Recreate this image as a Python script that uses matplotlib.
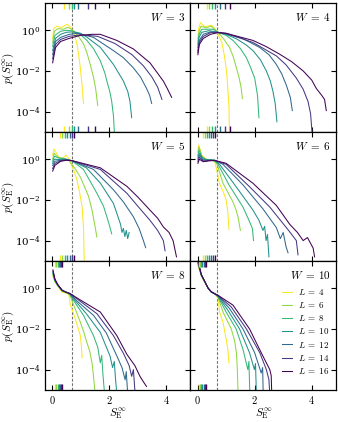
import numpy as np
import matplotlib
matplotlib.use("Agg")
import matplotlib.pyplot as plt
from matplotlib.ticker import FuncFormatter, NullLocator
import matplotlib.transforms as mtransforms

plt.rcParams['mathtext.fontset'] = 'cm'
plt.rcParams['font.family'] = 'serif'
plt.rcParams['font.serif'] = ['DejaVu Serif']
plt.rcParams['font.size'] = 7.5

L_values = [4, 6, 8, 10, 12, 14, 16]
W_values = [3, 4, 5, 6, 8, 10]

# --- W = 3 -----------------------------------------------------------------
w3_s = [
    [0.02, 0.06, 0.17, 0.33, 0.52, 0.62, 0.70, 0.80, 0.87, 0.93, 0.99, 1.05, 1.10],
    [0.02, 0.08, 0.2, 0.4, 0.55, 0.7, 0.9, 1.1, 1.22, 1.34, 1.45, 1.53, 1.6],
    [0.02, 0.1, 0.3, 0.5, 0.7, 0.95, 1.22, 1.45, 1.69, 1.85, 1.92, 2.02, 2.09, 2.15, 2.19],
    [0.02, 0.12, 0.3, 0.5, 0.7, 1.0, 1.22, 1.69, 2.15, 2.5, 2.65, 2.73, 2.79],
    [0.02, 0.12, 0.3, 0.6, 0.9, 1.45, 2.15, 2.5, 2.85, 3.1, 3.31, 3.42, 3.49],
    [0.02, 0.12, 0.3, 0.6, 1.0, 1.6, 2.2, 2.8, 3.2, 3.5, 3.7, 3.85],
    [0.02, 0.12, 0.3, 0.6, 1.0, 1.4, 1.69, 2.27, 2.85, 3.43, 3.9, 4.05, 4.19],
]
w3_logp = [
    [-0.4, 0.1, 0.2, 0.13, 0.3, 0.2, 0.03, -0.3, -0.67, -1.2, -1.85, -2.7, -3.6],
    [-0.6, -0.05, 0.08, 0.05, 0.15, 0.03, -0.25, -0.67, -1.1, -1.7, -2.3, -2.9, -3.7],
    [-0.8, -0.25, -0.05, 0.0, -0.03, -0.15, -0.5, -0.9, -1.5, -2.1, -2.5, -3.0, -3.5, -4.2, -5.2],
    [-1.0, -0.4, -0.2, -0.1, -0.08, -0.15, -0.34, -0.84, -1.68, -2.5, -3.0, -3.5, -4.3],
    [-1.2, -0.55, -0.35, -0.2, -0.15, -0.35, -1.0, -1.35, -1.85, -2.3, -2.86, -3.2, -3.6],
    [-1.4, -0.7, -0.45, -0.3, -0.22, -0.3, -0.65, -1.2, -1.75, -2.3, -2.8, -3.4],
    [-1.6, -0.85, -0.55, -0.4, -0.25, -0.2, -0.2, -0.5, -0.92, -1.6, -2.5, -2.9, -3.3],
]
w3_mean = [0.43, 0.60, 0.69, 0.78, 0.92, 1.25, 1.51]

# --- W = 4 -----------------------------------------------------------------
w4_s = [
    [0.01, 0.04, 0.1, 0.25, 0.48, 0.6, 0.71, 0.85, 0.95, 1.02, 1.06, 1.1, 1.12],
    [0.01, 0.05, 0.12, 0.3, 0.48, 0.71, 0.9, 1.12, 1.25, 1.36, 1.45, 1.53, 1.57],
    [0.01, 0.05, 0.15, 0.35, 0.55, 0.71, 1.0, 1.24, 1.5, 1.71, 1.85, 2.0, 2.1, 2.15],
    [0.01, 0.05, 0.15, 0.4, 0.71, 1.0, 1.36, 1.7, 1.94, 2.2, 2.41, 2.55, 2.64, 2.72, 2.78],
    [0.01, 0.06, 0.2, 0.45, 0.71, 1.0, 1.6, 2.17, 2.5, 2.76, 2.95, 3.11, 3.25, 3.32],
    [0.01, 0.06, 0.2, 0.45, 0.71, 1.0, 1.94, 2.76, 3.1, 3.46, 3.7, 3.87, 3.96, 4.02],
    [0.01, 0.06, 0.2, 0.45, 0.71, 1.0, 1.94, 2.4, 2.88, 3.3, 3.7, 4.0, 4.16, 4.35, 4.45, 4.51],
]
w4_logp = [
    [-0.4, 0.1, 0.37, 0.17, 0.25, 0.1, -0.17, -0.6, -1.35, -2.1, -2.86, -3.8, -5.2],
    [-0.55, -0.05, 0.2, 0.12, 0.2, -0.1, -0.4, -0.84, -1.3, -1.85, -2.3, -2.86, -3.36],
    [-0.7, -0.2, 0.05, 0.05, 0.05, -0.1, -0.25, -0.5, -0.9, -1.35, -1.8, -2.35, -3.2, -4.3],
    [-0.85, -0.35, -0.1, -0.02, -0.1, -0.2, -0.42, -0.72, -1.0, -1.45, -2.0, -2.5, -3.0, -3.6, -4.5],
    [-1.0, -0.5, -0.2, -0.08, -0.1, -0.18, -0.42, -0.84, -1.2, -1.68, -2.15, -2.7, -3.3, -3.95],
    [-1.1, -0.6, -0.3, -0.12, -0.1, -0.15, -0.6, -1.26, -1.7, -2.35, -2.9, -3.5, -4.1, -5.2],
    [-1.2, -0.7, -0.4, -0.2, -0.12, -0.15, -0.5, -0.8, -1.18, -1.55, -2.0, -2.45, -2.86, -3.2, -3.4, -3.95],
]
w4_mean = [0.33, 0.41, 0.5, 0.62, 0.78, 0.95, 1.12]

# --- W = 5 -----------------------------------------------------------------
w5_s = [
    [0.02, 0.07, 0.15, 0.3, 0.49, 0.58, 0.64, 0.75, 0.87, 0.96, 1.05, 1.1, 1.13],
    [0.02, 0.07, 0.2, 0.4, 0.6, 0.8, 1.0, 1.28, 1.4, 1.51, 1.57],
    [0.02, 0.08, 0.25, 0.45, 0.7, 1.1, 1.57, 1.8, 1.92, 2.02, 2.09],
    [0.02, 0.08, 0.3, 0.5, 0.7, 1.2, 1.69, 2.15, 2.4, 2.45, 2.5, 2.55, 2.6, 2.65, 2.7],
    [0.02, 0.1, 0.3, 0.5, 0.7, 1.45, 2.15, 2.5, 2.85, 3.05, 3.2, 3.28],
    [0.02, 0.1, 0.3, 0.5, 0.7, 1.69, 2.62, 3.0, 3.43, 3.7, 3.9, 3.96],
    [0.02, 0.1, 0.3, 0.5, 0.7, 1.69, 2.62, 3.0, 3.43, 3.7, 3.9, 4.1, 4.24, 4.3, 4.36],
]
w5_logp = [
    [0.2, 0.5, 0.3, -0.05, 0.2, 0.05, -0.17, -0.5, -1.0, -1.6, -2.33, -3.3, -5.2],
    [0.0, 0.3, 0.1, 0.05, -0.08, -0.45, -0.9, -1.83, -2.5, -3.33, -3.83],
    [-0.1, 0.15, 0.05, 0.02, -0.08, -0.5, -1.67, -2.3, -2.83, -3.3, -3.67],
    [-0.2, 0.0, -0.02, 0.0, -0.08, -0.42, -1.17, -2.17, -3.2, -3.6, -3.4, -3.8, -3.5, -3.9, -3.6],
    [-0.3, -0.1, -0.05, -0.02, -0.07, -0.5, -1.5, -2.1, -2.83, -3.4, -4.0, -4.35],
    [-0.45, -0.2, -0.08, -0.03, -0.07, -0.5, -1.67, -2.3, -3.0, -3.5, -4.0, -4.5],
    [-0.58, -0.3, -0.1, -0.05, -0.07, -0.42, -1.33, -1.85, -2.5, -2.9, -3.33, -3.6, -4.0, -4.4, -4.8],
]
w5_mean = [0.26, 0.36, 0.45, 0.54, 0.62, 0.7, 0.77]

# --- W = 6 -----------------------------------------------------------------
w6_s = [
    [0.01, 0.04, 0.15, 0.3, 0.45, 0.6, 0.68, 0.77, 0.9, 1.0, 1.06, 1.1],
    [0.01, 0.05, 0.15, 0.3, 0.5, 0.65, 0.75, 0.89, 1.05, 1.24, 1.35, 1.42, 1.5],
    [0.01, 0.05, 0.15, 0.3, 0.5, 0.7, 1.1, 1.59, 1.8, 1.92, 1.96],
    [0.01, 0.06, 0.2, 0.4, 0.6, 0.77, 1.35, 1.94, 2.15, 2.29, 2.35, 2.4, 2.45, 2.5],
    [0.01, 0.06, 0.2, 0.4, 0.6, 0.89, 1.59, 2.29, 2.76, 2.9, 3.0, 3.1, 3.17],
    [0.01, 0.06, 0.2, 0.4, 0.6, 1.0, 1.82, 2.53, 3.11, 3.3, 3.46, 3.52],
    [0.01, 0.06, 0.2, 0.4, 0.6, 1.0, 1.94, 2.76, 3.23, 3.5, 3.7, 3.85, 4.05, 4.1],
]
w6_logp = [
    [0.5, 0.7, 0.2, 0.0, -0.02, -0.12, -0.6, -1.2, -1.6, -2.0, -2.6, -3.45],
    [0.35, 0.6, 0.15, 0.0, -0.03, -0.12, -0.55, -1.18, -1.6, -2.1, -2.5, -2.86, -3.5],
    [0.2, 0.45, 0.1, -0.02, -0.03, -0.2, -1.26, -2.35, -3.0, -3.4, -4.0],
    [0.1, 0.3, 0.0, -0.03, -0.05, -0.25, -1.35, -2.5, -3.0, -3.5, -3.3, -4.0, -3.7, -4.8],
    [0.0, 0.2, -0.05, -0.05, -0.05, -0.25, -1.26, -2.44, -3.36, -3.9, -3.6, -4.3, -4.6],
    [-0.1, 0.1, -0.1, -0.06, -0.05, -0.25, -1.35, -2.35, -3.36, -3.7, -4.0, -4.7],
    [-0.2, 0.0, -0.12, -0.08, -0.06, -0.2, -1.18, -2.27, -3.2, -3.6, -4.0, -3.85, -4.37, -4.8],
]
w6_mean = [0.18, 0.26, 0.33, 0.4, 0.47, 0.54, 0.6]

# --- W = 8 -----------------------------------------------------------------
w8_s = [
    [0.03, 0.1, 0.2, 0.35, 0.5, 0.58, 0.64, 0.72, 0.81, 0.9, 0.99, 1.03, 1.05],
    [0.03, 0.1, 0.2, 0.35, 0.5, 0.62, 0.75, 0.99, 1.1, 1.22, 1.32, 1.4, 1.45, 1.51],
    [0.03, 0.1, 0.2, 0.35, 0.5, 0.62, 0.8, 1.1, 1.45, 1.6, 1.69, 1.74, 1.78, 1.84],
    [0.03, 0.1, 0.2, 0.35, 0.5, 0.62, 0.8, 1.2, 1.69, 2.03, 2.12, 2.18, 2.22, 2.27],
    [0.03, 0.1, 0.2, 0.35, 0.5, 0.62, 0.85, 1.45, 1.9, 2.27, 2.45, 2.56, 2.6, 2.65],
    [0.03, 0.1, 0.2, 0.35, 0.5, 0.62, 0.9, 1.57, 2.15, 2.5, 2.7, 2.79, 2.85, 2.9],
    [0.03, 0.1, 0.2, 0.35, 0.5, 0.62, 0.9, 1.69, 2.27, 2.62, 2.9, 3.08, 3.2, 3.31],
]
w8_logp = [
    [0.6, 0.3, 0.1, -0.2, -0.25, -0.25, -0.83, -1.1, -1.5, -1.9, -2.33, -2.9, -3.42],
    [0.65, 0.33, 0.12, -0.15, -0.22, -0.33, -0.8, -1.67, -2.1, -2.67, -3.1, -3.67, -4.3, -5.2],
    [0.7, 0.36, 0.14, -0.12, -0.2, -0.3, -0.7, -1.33, -2.33, -2.9, -3.67, -3.3, -4.2, -5.2],
    [0.75, 0.38, 0.15, -0.1, -0.2, -0.28, -0.6, -1.25, -2.17, -3.33, -3.9, -3.6, -4.4, -5.2],
    [0.8, 0.4, 0.16, -0.1, -0.2, -0.27, -0.6, -1.33, -2.2, -3.33, -3.9, -4.5, -4.1, -5.2],
    [0.85, 0.42, 0.17, -0.1, -0.2, -0.26, -0.55, -1.25, -2.33, -3.2, -3.8, -4.33, -4.0, -5.0],
    [0.9, 0.45, 0.18, -0.1, -0.2, -0.25, -0.5, -1.17, -2.33, -3.25, -3.8, -4.33, -4.6, -4.83],
]
w8_mean = [0.1, 0.15, 0.19, 0.23, 0.27, 0.31, 0.36]

# --- W = 10 ----------------------------------------------------------------
w10_s = [
    [0.02, 0.13, 0.25, 0.37, 0.48, 0.6, 0.72, 0.77, 0.89, 1.0, 1.06, 1.1],
    [0.02, 0.13, 0.25, 0.37, 0.48, 0.6, 0.72, 0.89, 1.18, 1.3, 1.36, 1.39, 1.42],
    [0.02, 0.13, 0.25, 0.37, 0.48, 0.6, 0.72, 1.0, 1.35, 1.59, 1.76, 1.8, 1.83],
    [0.02, 0.13, 0.25, 0.37, 0.48, 0.6, 0.72, 1.06, 1.47, 1.82, 1.99, 2.03, 2.06],
    [0.02, 0.13, 0.25, 0.37, 0.48, 0.6, 0.72, 1.12, 1.59, 2.0, 2.23, 2.28, 2.3],
    [0.02, 0.13, 0.25, 0.37, 0.48, 0.6, 0.72, 1.18, 1.71, 2.18, 2.41, 2.5, 2.53],
    [0.02, 0.13, 0.25, 0.37, 0.48, 0.6, 0.72, 1.24, 1.82, 2.23, 2.53, 2.58, 2.6],
]
w10_logp = [
    [1.1, 0.6, 0.3, 0.0, -0.18, -0.27, -0.5, -1.17, -1.67, -2.5, -3.0, -3.67],
    [1.15, 0.62, 0.31, 0.0, -0.18, -0.27, -0.45, -1.17, -2.0, -2.6, -3.17, -3.9, -5.2],
    [1.2, 0.64, 0.32, 0.0, -0.18, -0.27, -0.42, -1.17, -2.0, -3.0, -4.0, -3.6, -5.2],
    [1.22, 0.65, 0.32, 0.0, -0.18, -0.27, -0.4, -1.08, -2.0, -3.17, -4.0, -3.7, -5.2],
    [1.25, 0.66, 0.33, 0.0, -0.18, -0.27, -0.38, -1.0, -2.0, -3.17, -4.17, -3.9, -5.2],
    [1.28, 0.67, 0.33, 0.0, -0.18, -0.27, -0.36, -0.92, -2.0, -3.17, -4.0, -4.5, -5.2],
    [1.3, 0.68, 0.34, 0.0, -0.18, -0.27, -0.35, -0.83, -2.0, -3.17, -4.0, -4.3, -5.2],
]
w10_mean = [0.05, 0.09, 0.13, 0.17, 0.21, 0.25, 0.29]

panel_s = [w3_s, w4_s, w5_s, w6_s, w8_s, w10_s]
panel_logp = [w3_logp, w4_logp, w5_logp, w6_logp, w8_logp, w10_logp]
panel_mean = [w3_mean, w4_mean, w5_mean, w6_mean, w8_mean, w10_mean]

colors = plt.cm.viridis(np.linspace(1, 0, len(L_values)))

fig, axes = plt.subplots(3, 2, figsize=(3.38, 4.22), dpi=100, sharex=True, sharey=True)
fig.subplots_adjust(left=0.133, right=0.994, top=0.993, bottom=0.076, wspace=0, hspace=0)

for k, ax in enumerate(axes.flat):
    for j, L in enumerate(L_values):
        ax.plot(panel_s[k][j], 10 ** np.array(panel_logp[k][j]), color=colors[j], lw=0.75,
                label=rf'$L\;=\;{L}$')
    ax.axvline(np.log(2), color='0.45', ls='--', lw=0.8, dashes=(2.5, 1.5), zorder=0)
    trans = mtransforms.blended_transform_factory(ax.transData, ax.transAxes)
    ax.vlines(panel_mean[k], 0, 0.045, colors=colors, lw=1.0, transform=trans)
    ax.vlines(panel_mean[k], 0.955, 1, colors=colors, lw=1.0, transform=trans)
    ax.text(0.965, 0.935, rf'$W\;=\;{W_values[k]}$', transform=ax.transAxes,
            ha='right', va='top', fontsize=8)
    ax.set_yscale('log')
    ax.set_ylim(1e-5, 22)
    ax.set_xlim(-0.25, 4.85)
    ax.set_yticks([1e-4, 1e-2, 1])
    ax.yaxis.set_minor_locator(NullLocator())
    ax.set_xticks([0, 2, 4])
    ax.xaxis.set_major_formatter(FuncFormatter(lambda v, p: f'${v:g}$'))
    ax.tick_params(direction='in', top=True, right=True, length=3.5, width=0.8,
                   labelsize=7.5, pad=3)
    for sp in ax.spines.values():
        sp.set_linewidth(0.9)
    if k % 2 == 0:
        ax.set_ylabel(r'$p(S_{\rm E}^{\infty})$', fontsize=8)
        ax.yaxis.set_label_coords(-0.2, 0.5)
    if k >= 4:
        ax.set_xlabel(r'$S_{\rm E}^{\infty}$', fontsize=8)
        ax.xaxis.set_label_coords(0.5, -0.125)

axes[2, 1].legend(loc='lower right', bbox_to_anchor=(1.0, 0.06), frameon=False,
                  fontsize=6.5, handlelength=1.1, handletextpad=0.7, labelspacing=0.35,
                  borderpad=0.2)

fig.savefig('out.png', dpi=100)
